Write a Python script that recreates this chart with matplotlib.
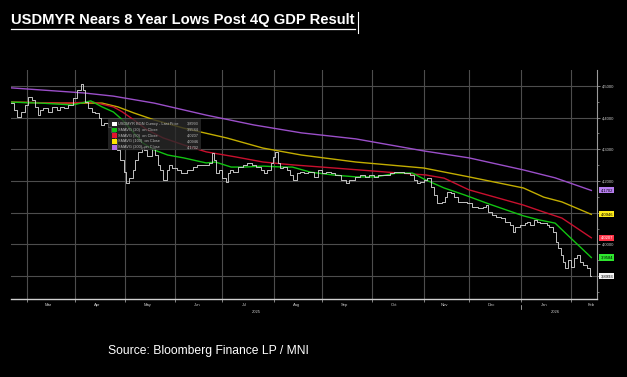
"""USDMYR with 20/50/100/200-day moving averages, Bloomberg-style dark chart."""
import matplotlib

matplotlib.use("Agg")
import matplotlib.pyplot as plt
import matplotlib.transforms as mtransforms
import numpy as np
from matplotlib.lines import Line2D
from matplotlib.patches import Rectangle

# first trading day on the chart; x axis counts weekdays from here
START = "2025-02-20"

price_dates = [
    "2025-02-20", "2025-02-24", "2025-02-25", "2025-02-27", "2025-03-03", "2025-03-04",
    "2025-03-06", "2025-03-07", "2025-03-10", "2025-03-11", "2025-03-13", "2025-03-17",
    "2025-03-19", "2025-03-21", "2025-03-24", "2025-03-26", "2025-03-28", "2025-04-01",
    "2025-04-03", "2025-04-04", "2025-04-07", "2025-04-08", "2025-04-10", "2025-04-11",
    "2025-04-15", "2025-04-16", "2025-04-17", "2025-04-21", "2025-04-22", "2025-04-24",
    "2025-04-25", "2025-04-28", "2025-04-30", "2025-05-01", "2025-05-02", "2025-05-06",
    "2025-05-07", "2025-05-08", "2025-05-12", "2025-05-13", "2025-05-14", "2025-05-16",
    "2025-05-20", "2025-05-21", "2025-05-22", "2025-05-23", "2025-05-27", "2025-05-28",
    "2025-05-29", "2025-06-02", "2025-06-04", "2025-06-06", "2025-06-11", "2025-06-13",
    "2025-06-17", "2025-06-20", "2025-06-24", "2025-06-25", "2025-06-26", "2025-06-27",
    "2025-06-30", "2025-07-02", "2025-07-03", "2025-07-04", "2025-07-07", "2025-07-09",
    "2025-07-11", "2025-07-15", "2025-07-17", "2025-07-21", "2025-07-23", "2025-07-25",
    "2025-07-28", "2025-07-30", "2025-07-31", "2025-08-01", "2025-08-04", "2025-08-05",
    "2025-08-06", "2025-08-08", "2025-08-11", "2025-08-13", "2025-08-14", "2025-08-18",
    "2025-08-19", "2025-08-21", "2025-08-25", "2025-08-28", "2025-08-29", "2025-09-02",
    "2025-09-04", "2025-09-08", "2025-09-10", "2025-09-15", "2025-09-16", "2025-09-18",
    "2025-09-23", "2025-09-25", "2025-09-29", "2025-10-01", "2025-10-03", "2025-10-07",
    "2025-10-10", "2025-10-14", "2025-10-16", "2025-10-20", "2025-10-23", "2025-10-27",
    "2025-10-28", "2025-10-30", "2025-10-31", "2025-11-04", "2025-11-05", "2025-11-07",
    "2025-11-10", "2025-11-12", "2025-11-14", "2025-11-17", "2025-11-18", "2025-11-20",
    "2025-11-21", "2025-11-25", "2025-11-27", "2025-12-01", "2025-12-04", "2025-12-08",
    "2025-12-10", "2025-12-11", "2025-12-12", "2025-12-16", "2025-12-18", "2025-12-22",
    "2025-12-24", "2025-12-26", "2025-12-29", "2025-12-30", "2026-01-02", "2026-01-05",
    "2026-01-06", "2026-01-08", "2026-01-09", "2026-01-13", "2026-01-14", "2026-01-16",
    "2026-01-19", "2026-01-20", "2026-01-22", "2026-01-23", "2026-01-26", "2026-01-27",
    "2026-01-28", "2026-01-29", "2026-01-30", "2026-02-03", "2026-02-04", "2026-02-05",
    "2026-02-09", "2026-02-10", "2026-02-12", "2026-02-13",
]
price_vals = [
    4.446, 4.424, 4.402, 4.418, 4.440, 4.465,
    4.456, 4.434, 4.408, 4.424, 4.431, 4.418,
    4.434, 4.424, 4.434, 4.431, 4.440, 4.462,
    4.487, 4.506, 4.487, 4.449, 4.431, 4.418,
    4.415, 4.399, 4.377, 4.383, 4.371, 4.355,
    4.329, 4.298, 4.266, 4.228, 4.194, 4.210,
    4.235, 4.266, 4.292, 4.307, 4.298, 4.279,
    4.304, 4.282, 4.251, 4.235, 4.203, 4.235,
    4.251, 4.241, 4.235, 4.225, 4.235, 4.244,
    4.251, 4.251, 4.257, 4.288, 4.266, 4.225,
    4.235, 4.210, 4.197, 4.225, 4.235, 4.228,
    4.244, 4.251, 4.257, 4.251, 4.244, 4.235,
    4.225, 4.235, 4.257, 4.276, 4.292, 4.257,
    4.241, 4.244, 4.235, 4.219, 4.203, 4.225,
    4.228, 4.225, 4.228, 4.213, 4.235, 4.225,
    4.228, 4.225, 4.219, 4.203, 4.194, 4.203,
    4.213, 4.219, 4.213, 4.219, 4.213, 4.219,
    4.219, 4.225, 4.228, 4.228, 4.225, 4.219,
    4.203, 4.194, 4.197, 4.203, 4.210, 4.181,
    4.156, 4.131, 4.134, 4.150, 4.165, 4.162,
    4.150, 4.134, 4.134, 4.131, 4.118, 4.115,
    4.118, 4.124, 4.102, 4.093, 4.086, 4.083,
    4.071, 4.061, 4.039, 4.055, 4.061, 4.067,
    4.071, 4.061, 4.077, 4.071, 4.067, 4.067,
    4.061, 4.055, 4.039, 4.007, 3.988, 3.966,
    3.944, 3.925, 3.951, 3.928, 3.957, 3.966,
    3.944, 3.935, 3.925, 3.8993,
]

sma20_dates = [
    "2025-02-20", "2025-03-11", "2025-03-31", "2025-04-10", "2025-04-17", "2025-04-24",
    "2025-04-30", "2025-05-07", "2025-05-13", "2025-05-20", "2025-05-28", "2025-06-06",
    "2025-06-20", "2025-06-26", "2025-07-07", "2025-07-15", "2025-07-25", "2025-08-07",
    "2025-08-13", "2025-08-25", "2025-09-08", "2025-09-22", "2025-10-03", "2025-10-16",
    "2025-10-27", "2025-11-04", "2025-11-14", "2025-11-27", "2025-12-12", "2026-01-02",
    "2026-01-13", "2026-01-22", "2026-01-30", "2026-02-13",
]
sma20_vals = [
    4.449, 4.446, 4.440, 4.453, 4.434, 4.418,
    4.393, 4.352, 4.320, 4.298, 4.282, 4.273,
    4.257, 4.260, 4.244, 4.244, 4.247, 4.244,
    4.244, 4.228, 4.219, 4.213, 4.213, 4.225,
    4.225, 4.203, 4.178, 4.156, 4.127, 4.090,
    4.077, 4.067, 4.026, 3.9584,
]

sma50_dates = [
    "2025-02-20", "2025-03-24", "2025-04-11", "2025-04-24", "2025-04-30", "2025-05-07",
    "2025-05-15", "2025-05-26", "2025-06-06", "2025-06-20", "2025-07-09", "2025-07-25",
    "2025-08-13", "2025-09-01", "2025-10-10", "2025-11-04", "2025-11-14", "2025-12-01",
    "2026-01-02", "2026-01-15", "2026-01-27", "2026-02-13",
]
sma50_vals = [
    4.449, 4.446, 4.449, 4.434, 4.418, 4.393,
    4.361, 4.336, 4.314, 4.292, 4.276, 4.260,
    4.251, 4.244, 4.228, 4.219, 4.209, 4.172,
    4.124, 4.102, 4.083, 4.0207,
]

sma100_dates = [
    "2025-02-20", "2025-03-24", "2025-04-17", "2025-04-28", "2025-05-07", "2025-05-20",
    "2025-06-06", "2025-07-03", "2025-07-25", "2025-08-19", "2025-09-22", "2025-11-03",
    "2025-12-01", "2026-01-02", "2026-01-15", "2026-01-27", "2026-02-13",
]
sma100_vals = [
    4.449, 4.446, 4.446, 4.434, 4.415, 4.393,
    4.367, 4.336, 4.304, 4.282, 4.260, 4.241,
    4.213, 4.178, 4.149, 4.134, 4.0946,
]

sma200_dates = [
    "2025-02-20", "2025-04-07", "2025-04-24", "2025-05-20", "2025-06-20", "2025-07-21",
    "2025-08-19", "2025-09-22", "2025-11-03", "2025-12-01", "2026-01-02", "2026-01-22",
    "2026-02-13",
]
sma200_vals = [
    4.494, 4.478, 4.468, 4.446, 4.408, 4.377,
    4.352, 4.333, 4.295, 4.273, 4.235, 4.210,
    4.1702,
]

month_starts = [
    "2025-03-03", "2025-04-01", "2025-05-01", "2025-06-02", "2025-07-01", "2025-08-01",
    "2025-09-01", "2025-10-01", "2025-11-03", "2025-12-01", "2026-01-01", "2026-02-02",
]
month_mids = [
    "2025-03-14", "2025-04-15", "2025-05-15", "2025-06-16", "2025-07-15", "2025-08-15",
    "2025-09-15", "2025-10-15", "2025-11-14", "2025-12-15", "2026-01-15", "2026-02-13",
]
month_labels = ["Mar", "Apr", "May", "Jun", "Jul", "Aug", "Sep", "Oct", "Nov", "Dec", "Jan", "Feb"]
year_dates = ["2025-07-22", "2026-01-22"]
year_labels = ["2025", "2026"]

y_ticks = [3.9, 4.0, 4.1, 4.2, 4.3, 4.4, 4.5]

legend_labels = [
    "USDMYR BGN Curncy - Last Price",
    "SMAVG (20)  on Close",
    "SMAVG (50)  on Close",
    "SMAVG (100)  on Close",
    "SMAVG (200)  on Close",
]

TITLE = "USDMYR Nears 8 Year Lows Post 4Q GDP Result"
SOURCE = "Source: Bloomberg Finance LP / MNI"

C_PRICE = "#d0d0d0"
C_20 = "#12c412"
C_50 = "#c8102e"
C_100 = "#c2ad00"
C_200 = "#9b4fc9"
TAG_COLORS = ["#f4f4f4", "#2ee62e", "#ff3347", "#ffec1a", "#b77ef0"]
TAG_TEXT = ["#000000", "#000000", "#ffffff", "#000000", "#000000"]
FONT = "Liberation Sans"


def bpos(dates):
    # weekday count from START, Bloomberg style (no weekend gaps)
    return np.busday_count(np.datetime64(START), np.array(dates, dtype="datetime64[D]"))


def fmt(v):
    return f"{v:.4f}".replace(".", ",")


W, H = 627, 377
fig = plt.figure(figsize=(W / 100, H / 100), dpi=100, facecolor="black")
ax = fig.add_axes([11 / W, 1 - 299 / H, 586 / W, 229 / H], facecolor="black")

series = [
    (price_dates, price_vals, C_PRICE, 0.65, 6),
    (sma20_dates, sma20_vals, C_20, 1.0, 5),
    (sma50_dates, sma50_vals, C_50, 1.0, 4),
    (sma100_dates, sma100_vals, C_100, 1.0, 3),
    (sma200_dates, sma200_vals, C_200, 1.0, 3),
]
for dates, vals, color, lw, z in series:
    if color == C_PRICE:
        ax.plot(bpos(dates), vals, color=color, lw=lw, zorder=z, drawstyle="steps-mid")
    else:
        ax.plot(bpos(dates), vals, color=color, lw=lw, zorder=z)

ax.set_xlim(-0.2, 258.5)
ax.set_ylim(3.8274, 4.5505)

# grid
for d in bpos(month_starts):
    ax.axvline(d, color="#4d4d4d", lw=0.8, zorder=1)
for v in y_ticks:
    ax.axhline(v, color="#4d4d4d", lw=0.8, zorder=1)

for side in ["left", "top"]:
    ax.spines[side].set_visible(False)
ax.spines["bottom"].set_color("#d0d0d0")
ax.spines["bottom"].set_linewidth(1.0)
ax.spines["right"].set_color("#9a9a9a")
ax.spines["right"].set_linewidth(0.8)

ax.set_xticks(bpos(month_starts))
ax.set_xticklabels([])
ax.tick_params(axis="x", length=2, width=0.6, color="#9a9a9a")

ax.yaxis.tick_right()
ax.set_yticks(y_ticks)
ax.set_yticklabels([fmt(v) for v in y_ticks], fontsize=3, color="#cfcfcf", family=FONT)
ax.set_yticks(np.arange(3.85, 4.55, 0.1), minor=True)
ax.tick_params(axis="y", which="major", length=2.5, width=0.6, color="#9a9a9a", pad=1)
ax.tick_params(axis="y", which="minor", length=1.5, width=0.5, color="#9a9a9a")

xt = mtransforms.blended_transform_factory(ax.transData, ax.transAxes)
for pos, lab in zip(bpos(month_mids), month_labels):
    ax.text(pos, -0.018, lab, transform=xt, fontsize=3, color="#cfcfcf",
            ha="center", va="top", family=FONT)
for pos, lab in zip(bpos(year_dates), year_labels):
    ax.text(pos, -0.05, lab, transform=xt, fontsize=3, color="#cfcfcf",
            ha="center", va="top", family=FONT)
jan = bpos(["2026-01-01"])[0]
ax.plot([jan, jan], [-0.025, -0.045], transform=xt, color="#cfcfcf", lw=0.5, clip_on=False)

# last-value tags on the right axis
last_vals = [price_vals[-1], sma20_vals[-1], sma50_vals[-1], sma100_vals[-1], sma200_vals[-1]]
yt = mtransforms.blended_transform_factory(ax.transAxes, ax.transData)
for v, fc, tc in zip(last_vals, TAG_COLORS, TAG_TEXT):
    ax.text(1.006, v, fmt(v), transform=yt, fontsize=3, color=tc, ha="left", va="center",
            family=FONT, zorder=10, clip_on=False,
            bbox=dict(boxstyle="square,pad=0.25", fc=fc, ec="none"))

# legend box
x0, x1 = (108 - 11) / 586, (201 - 11) / 586
y0, y1 = (299 - 150) / 229, (299 - 119) / 229
ax.add_patch(Rectangle((x0, y0), x1 - x0, y1 - y0, transform=ax.transAxes,
                       fc="#2a2a2a", ec="none", alpha=0.8, zorder=8))
legend_colors = ["#ffffff", C_20, "#e8142e", "#ffe600", "#b26ee8"]
for i, (lab, v, c) in enumerate(zip(legend_labels, last_vals, legend_colors)):
    yy = (299 - 124 - 5.8 * i) / 229
    ax.add_patch(Rectangle((x0 + 4 / 586, yy - 2.3 / 229), 5 / 586, 4.6 / 229,
                           transform=ax.transAxes, fc=c, ec="none", zorder=9))
    ax.text(x0 + 10 / 586, yy, lab, transform=ax.transAxes, fontsize=2.8, color="#bdbdbd",
            ha="left", va="center", family=FONT, zorder=9)
    ax.text(x1 - 2 / 586, yy, fmt(v), transform=ax.transAxes, fontsize=2.8, color="#bdbdbd",
            ha="right", va="center", family=FONT, zorder=9)

# title with underline and the stray cursor bar
title = fig.text(11 / W, 1 - 20 / H, TITLE, fontsize=10.6, fontweight="bold", color="white",
                 family=FONT, ha="left", va="center")
fig.text(108 / W, 1 - 351 / H, SOURCE, fontsize=8.7, color="white", family=FONT,
         ha="left", va="center")

fig.canvas.draw()
bb = title.get_window_extent().transformed(fig.transFigure.inverted())
fig.add_artist(Line2D([bb.x0, bb.x1], [1 - 29 / H, 1 - 29 / H], color="white", lw=0.9))
fig.add_artist(Line2D([358 / W, 358 / W], [1 - 12 / H, 1 - 33 / H], color="white", lw=0.8))

fig.savefig("out.png", dpi=100, facecolor="black")
